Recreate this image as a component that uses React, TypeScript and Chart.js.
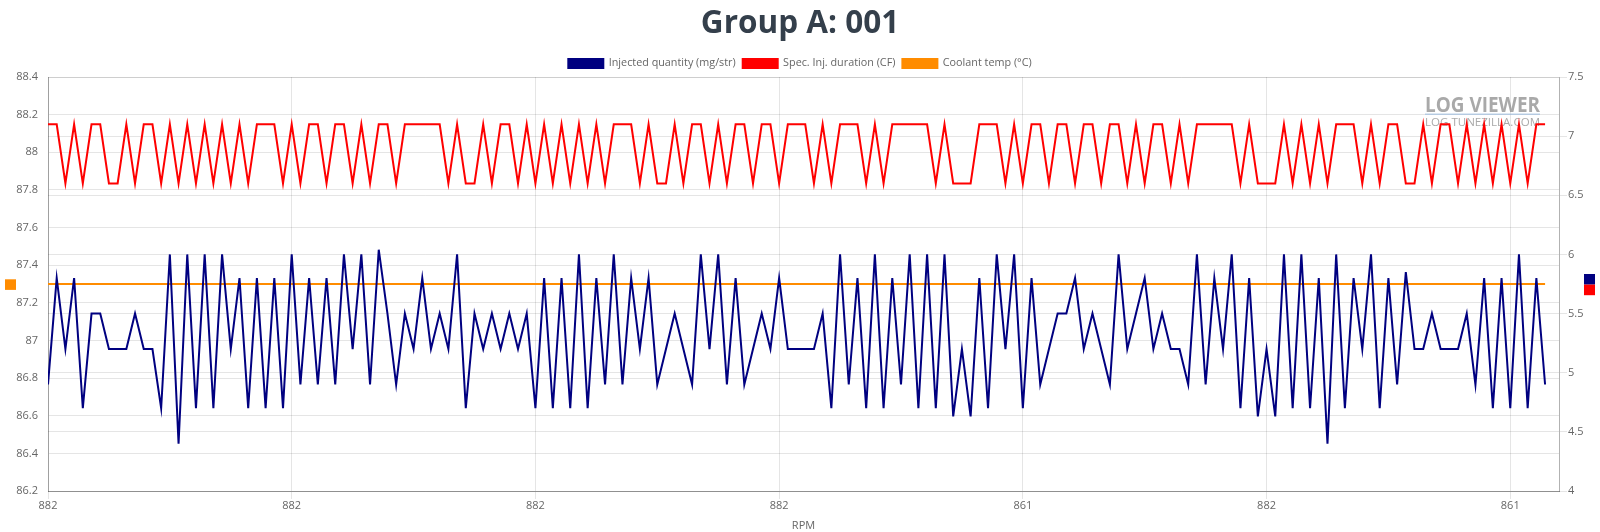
import React, { useEffect, useRef } from 'react';
import { Chart, registerables } from 'chart.js';

Chart.register(...registerables);

// ---- data ----
const xTickLabels = ['882', '882', '882', '882', '861', '882', '861'];
const xTickEvery = 28;

const injectedQuantity = [
  4.9, 5.8, 5.2, 5.8, 4.7, 5.5, 5.5, 5.2, 5.2, 5.2,
  5.5, 5.2, 5.2, 4.7, 6.0, 4.4, 6.0, 4.7, 6.0, 4.7,
  6.0, 5.2, 5.8, 4.7, 5.8, 4.7, 5.8, 4.7, 6.0, 4.9,
  5.8, 4.9, 5.8, 4.9, 6.0, 5.2, 6.0, 4.9, 6.04, 5.5,
  4.9, 5.5, 5.2, 5.8, 5.2, 5.5, 5.2, 6.0, 4.7, 5.5,
  5.2, 5.5, 5.2, 5.5, 5.2, 5.5, 4.7, 5.8, 4.7, 5.8,
  4.7, 6.0, 4.7, 5.8, 4.9, 6.0, 4.9, 5.8, 5.2, 5.8,
  4.9, 5.2, 5.5, 5.2, 4.9, 6.0, 5.2, 6.0, 4.9, 5.8,
  4.9, 5.2, 5.5, 5.2, 5.8, 5.2, 5.2, 5.2, 5.2, 5.5,
  4.7, 6.0, 4.9, 5.8, 4.7, 6.0, 4.7, 5.8, 4.9, 6.0,
  4.7, 6.0, 4.7, 6.0, 4.63, 5.2, 4.63, 5.8, 4.7, 6.0,
  5.2, 6.0, 4.7, 5.8, 4.9, 5.2, 5.5, 5.5, 5.8, 5.2,
  5.5, 5.2, 4.9, 6.0, 5.2, 5.5, 5.8, 5.2, 5.5, 5.2,
  5.2, 4.9, 6.0, 4.9, 5.8, 5.2, 6.0, 4.7, 5.8, 4.63,
  5.2, 4.63, 6.0, 4.7, 6.0, 4.7, 5.8, 4.4, 6.0, 4.7,
  5.8, 5.2, 6.0, 4.7, 5.8, 4.9, 5.85, 5.2, 5.2, 5.5,
  5.2, 5.2, 5.2, 5.5, 4.9, 5.8, 4.7, 5.8, 4.7, 6.0,
  4.7, 5.8, 4.9,
];

const specInjDuration = [
  7.1, 7.1, 6.6, 7.1, 6.6, 7.1, 7.1, 6.6, 6.6, 7.1,
  6.6, 7.1, 7.1, 6.6, 7.1, 6.6, 7.1, 6.6, 7.1, 6.6,
  7.1, 6.6, 7.1, 6.6, 7.1, 7.1, 7.1, 6.6, 7.1, 6.6,
  7.1, 7.1, 6.6, 7.1, 7.1, 6.6, 7.1, 6.6, 7.1, 7.1,
  6.6, 7.1, 7.1, 7.1, 7.1, 7.1, 6.6, 7.1, 6.6, 6.6,
  7.1, 6.6, 7.1, 7.1, 6.6, 7.1, 6.6, 7.1, 6.6, 7.1,
  6.6, 7.1, 6.6, 7.1, 6.6, 7.1, 7.1, 7.1, 6.6, 7.1,
  6.6, 6.6, 7.1, 6.6, 7.1, 7.1, 6.6, 7.1, 6.6, 7.1,
  7.1, 6.6, 7.1, 7.1, 6.6, 7.1, 7.1, 7.1, 6.6, 7.1,
  6.6, 7.1, 7.1, 7.1, 6.6, 7.1, 6.6, 7.1, 7.1, 7.1,
  7.1, 7.1, 6.6, 7.1, 6.6, 6.6, 6.6, 7.1, 7.1, 7.1,
  6.6, 7.1, 6.6, 7.1, 7.1, 6.6, 7.1, 7.1, 6.6, 7.1,
  7.1, 6.6, 7.1, 7.1, 6.6, 7.1, 6.6, 7.1, 7.1, 6.6,
  7.1, 6.6, 7.1, 7.1, 7.1, 7.1, 7.1, 6.6, 7.1, 6.6,
  6.6, 6.6, 7.1, 6.6, 7.1, 6.6, 7.1, 6.6, 7.1, 7.1,
  7.1, 6.6, 7.1, 6.6, 7.1, 7.1, 6.6, 6.6, 7.1, 6.6,
  7.1, 7.1, 6.6, 7.1, 6.6, 7.1, 6.6, 7.1, 6.6, 7.1,
  6.6, 7.1, 7.1,
];

const coolantTemp = [
  87.3, 87.3, 87.3, 87.3, 87.3, 87.3, 87.3, 87.3, 87.3, 87.3,
  87.3, 87.3, 87.3, 87.3, 87.3, 87.3, 87.3, 87.3, 87.3, 87.3,
  87.3, 87.3, 87.3, 87.3, 87.3, 87.3, 87.3, 87.3, 87.3, 87.3,
  87.3, 87.3, 87.3, 87.3, 87.3, 87.3, 87.3, 87.3, 87.3, 87.3,
  87.3, 87.3, 87.3, 87.3, 87.3, 87.3, 87.3, 87.3, 87.3, 87.3,
  87.3, 87.3, 87.3, 87.3, 87.3, 87.3, 87.3, 87.3, 87.3, 87.3,
  87.3, 87.3, 87.3, 87.3, 87.3, 87.3, 87.3, 87.3, 87.3, 87.3,
  87.3, 87.3, 87.3, 87.3, 87.3, 87.3, 87.3, 87.3, 87.3, 87.3,
  87.3, 87.3, 87.3, 87.3, 87.3, 87.3, 87.3, 87.3, 87.3, 87.3,
  87.3, 87.3, 87.3, 87.3, 87.3, 87.3, 87.3, 87.3, 87.3, 87.3,
  87.3, 87.3, 87.3, 87.3, 87.3, 87.3, 87.3, 87.3, 87.3, 87.3,
  87.3, 87.3, 87.3, 87.3, 87.3, 87.3, 87.3, 87.3, 87.3, 87.3,
  87.3, 87.3, 87.3, 87.3, 87.3, 87.3, 87.3, 87.3, 87.3, 87.3,
  87.3, 87.3, 87.3, 87.3, 87.3, 87.3, 87.3, 87.3, 87.3, 87.3,
  87.3, 87.3, 87.3, 87.3, 87.3, 87.3, 87.3, 87.3, 87.3, 87.3,
  87.3, 87.3, 87.3, 87.3, 87.3, 87.3, 87.3, 87.3, 87.3, 87.3,
  87.3, 87.3, 87.3, 87.3, 87.3, 87.3, 87.3, 87.3, 87.3, 87.3,
  87.3, 87.3, 87.3,
];

const seriesLabels = ['Injected quantity (mg/str)', 'Spec. Inj. duration (CF)', 'Coolant temp (°C)'];
const seriesColors = ['#000080', '#ff0000', '#ff8c00'];

const FONT = "'Open Sans', sans-serif";

const fmtNum = (v: any) => String(Math.round(Number(v) * 100) / 100);

const watermarkPlugin = {
  id: 'watermark',
  beforeDatasetsDraw(chart: any) {
    const { ctx, chartArea } = chart;
    const xr = chartArea.right - 19;
    const w = 115;
    ctx.save();
    ctx.textAlign = 'left';
    ctx.textBaseline = 'alphabetic';
    ctx.fillStyle = 'rgba(140,140,140,0.75)';
    ctx.font = `bold 21px ${FONT}`;
    let m = ctx.measureText('LOG VIEWER').width;
    ctx.save();
    ctx.translate(xr - w, chartArea.top + 35);
    ctx.scale(w / m, 1);
    ctx.fillText('LOG VIEWER', 0, 0);
    ctx.restore();
    ctx.fillStyle = 'rgba(160,190,222,0.7)';
    ctx.fillRect(xr - w, chartArea.top + 36.5, w, 1.5);
    ctx.fillStyle = 'rgba(140,140,140,0.75)';
    ctx.font = `11px ${FONT}`;
    m = ctx.measureText('LOG.TUNEZILLA.COM').width;
    ctx.save();
    ctx.translate(xr - w, chartArea.top + 49);
    ctx.scale(w / m, 1);
    ctx.fillText('LOG.TUNEZILLA.COM', 0, 0);
    ctx.restore();
    ctx.restore();
  },
};

const sideMarkerPlugin = {
  id: 'sideMarkers',
  afterDraw(chart: any) {
    const { ctx, chartArea } = chart;
    const mid = (chartArea.top + chartArea.bottom) / 2 + 0.6;
    const ds = chart.data.datasets;
    const left = ds.filter((d: any) => d.yAxisID === 'yLeft');
    const right = ds.filter((d: any) => d.yAxisID === 'yRight');
    const h = 10.6;
    const w = 11;
    ctx.save();
    left.forEach((d: any, k: number) => {
      ctx.fillStyle = d.borderColor;
      ctx.fillRect(chartArea.left - 43, mid - (left.length * h) / 2 + k * h, w, h);
    });
    right.forEach((d: any, k: number) => {
      ctx.fillStyle = d.borderColor;
      ctx.fillRect(chartArea.right + 25, mid - (right.length * h) / 2 + k * h, w, h);
    });
    ctx.restore();
  },
};

function ChartView() {
  const ref = useRef<HTMLCanvasElement | null>(null);

  useEffect(() => {
    if (!ref.current) return;
    Chart.defaults.font.family = FONT;
    const toPoints = (arr: number[]) => arr.map((y, i) => ({ x: i, y }));
    const base = { borderWidth: 2, pointRadius: 0, pointHoverRadius: 0, tension: 0, fill: false };
    const chart = new Chart(ref.current, {
      type: 'line',
      data: {
        datasets: [
          { ...base, label: seriesLabels[0], data: toPoints(injectedQuantity), borderColor: seriesColors[0], backgroundColor: seriesColors[0], yAxisID: 'yRight' },
          { ...base, label: seriesLabels[1], data: toPoints(specInjDuration), borderColor: seriesColors[1], backgroundColor: seriesColors[1], yAxisID: 'yRight' },
          { ...base, label: seriesLabels[2], data: toPoints(coolantTemp), borderColor: seriesColors[2], backgroundColor: seriesColors[2], yAxisID: 'yLeft' },
        ],
      } as any,
      options: {
        animation: false,
        responsive: true,
        maintainAspectRatio: false,
        layout: { padding: 0 },
        plugins: {
          title: {
            display: true,
            text: 'Group A: 001',
            color: '#343f4b',
            font: { family: FONT, size: 31.5, weight: 'bold' },
            padding: { top: 5, bottom: 8.2 },
          },
          legend: {
            display: true,
            position: 'top',
            maxHeight: 26,
            labels: {
              boxWidth: 35,
              boxHeight: 9,
              padding: 7,
              color: '#666',
              font: { family: FONT, size: 10.8 },
            },
          },
          tooltip: { enabled: false },
        },
        scales: {
          x: {
            type: 'linear',
            min: 0,
            max: 173.6,
            afterFit: (s: any) => { s.height = 41; },
            grid: { color: 'rgba(0,0,0,0.1)', drawTicks: true, tickLength: 8 },
            border: { display: true, color: 'rgba(0,0,0,0.3)' },
            ticks: {
              stepSize: xTickEvery,
              includeBounds: false,
              autoSkip: false,
              maxRotation: 0,
              padding: 0,
              color: '#666',
              font: { family: FONT, size: 11 },
              callback: (v: any) => {
                const k = Math.round(Number(v) / xTickEvery);
                return Math.abs(Number(v) - k * xTickEvery) < 1e-6 && xTickLabels[k] !== undefined ? xTickLabels[k] : null;
              },
            },
            title: { display: true, text: 'RPM', color: '#666', font: { family: FONT, size: 11 }, padding: { top: 0, bottom: 0 } },
          },
          yLeft: {
            type: 'linear',
            position: 'left',
            min: 86.2,
            max: 88.4,
            afterFit: (s: any) => { s.width = 48; },
            grid: { color: 'rgba(0,0,0,0.1)', drawTicks: false },
            border: { display: true, color: 'rgba(0,0,0,0.3)' },
            ticks: { stepSize: 0.2, padding: 10, color: '#666', font: { family: FONT, size: 11 }, callback: fmtNum },
          },
          yRight: {
            type: 'linear',
            position: 'right',
            min: 4,
            max: 7.5,
            afterFit: (s: any) => { s.width = 41; },
            grid: { color: 'rgba(0,0,0,0.1)', drawTicks: true, tickLength: 8 },
            border: { display: true, color: 'rgba(0,0,0,0.3)' },
            ticks: { stepSize: 0.5, padding: 1, color: '#666', font: { family: FONT, size: 11 }, callback: fmtNum },
          },
        },
      } as any,
      plugins: [watermarkPlugin, sideMarkerPlugin],
    });
    return () => chart.destroy();
  }, []);

  return (
    <div style={{ position: 'fixed', left: 0, top: 0, width: 1600, height: 532, background: '#fff' }}>
      <canvas ref={ref} />
    </div>
  );
}

export default function App() {
  return <ChartView />;
}
